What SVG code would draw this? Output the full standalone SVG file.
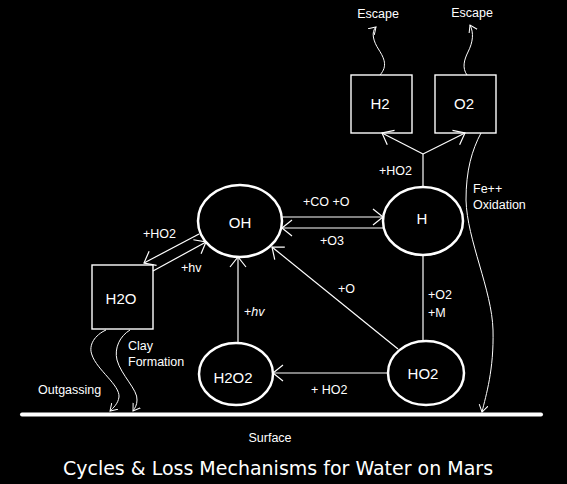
<svg xmlns="http://www.w3.org/2000/svg" width="567" height="484" viewBox="0 0 567 484">
<style>
.bg{fill:#000}
.box{fill:none;stroke:#fff;stroke-width:1.4}
.ell{fill:none;stroke:#fff;stroke-width:2.5}
.ln{fill:none;stroke:#fff;stroke-width:1.2}
.sq{fill:none;stroke:#fff;stroke-width:1}
.t{fill:#fff;font-family:"Liberation Sans",Arial,sans-serif;font-size:12.5px}
.n{fill:#fff;font-family:"Liberation Sans",Arial,sans-serif;font-size:15px;text-anchor:middle}
.title{fill:#fff;font-family:"DejaVu Sans",Verdana,sans-serif;font-size:19px;text-anchor:middle}
</style>
<defs>
<marker id="ah" markerUnits="userSpaceOnUse" markerWidth="14" markerHeight="20" refX="11" refY="9" orient="auto">
<path d="M1,1 L11,9 L1,17" fill="none" stroke="#fff" stroke-width="1.2"/>
</marker>
<marker id="sm" markerUnits="userSpaceOnUse" markerWidth="10" markerHeight="12" refX="7" refY="5" orient="auto">
<path d="M0,0.5 L7,5 L0,9.5" fill="none" stroke="#fff" stroke-width="1"/>
</marker>
</defs>
<rect class="bg" x="0" y="0" width="567" height="484"/>

<g id="connectors">
<path class="ln" d="M282,217 L383,217" marker-end="url(#ah)"/>
<path class="ln" d="M383,228 L282,228" marker-end="url(#ah)"/>
<path class="ln" d="M423,187 L423,154"/>
<path class="ln" d="M423,154 L382,133" marker-end="url(#ah)"/>
<path class="ln" d="M423,154 L465,133" marker-end="url(#ah)"/>
<path class="ln" d="M423,255 L423,341"/>
<path class="ln" d="M199,234 L144,263" marker-end="url(#ah)"/>
<path class="ln" d="M153,271 L206,242" marker-end="url(#ah)"/>
<path class="ln" d="M238,343 L238,257" marker-end="url(#ah)"/>
<path class="ln" d="M388,373 L273,373" marker-end="url(#ah)"/>
<path class="ln" d="M398,349 L272,247" marker-end="url(#ah)"/>
<path class="sq" d="M380,75 C388,66 384,58 379,50 C373,41 371,32 376,27" marker-end="url(#sm)"/>
<path class="sq" d="M467,75 C462,68 464,60 468,52 C473,42 474,33 470,25" marker-end="url(#sm)"/>
<path class="sq" d="M106,330 C95,335 88,345 92,355 C97,370 120,385 119,397 C118,404 113,408 110,411" marker-end="url(#sm)"/>
<path class="sq" d="M130,330 C120,336 114,348 117,360 C121,375 138,390 137,400 C137,405 135,408 133,411" marker-end="url(#sm)"/>
<path class="sq" d="M481,133 C472,150 466,170 466,200 C467,240 492,290 493,330 C494,370 486,395 482,412" marker-end="url(#sm)"/>
<text class="t" x="303" y="206">+CO +O</text>
<text class="t" x="320" y="245">+O3</text>
<text class="t" x="379" y="175">+HO2</text>
<text class="t" x="143" y="238">+HO2</text>
<text class="t" x="181" y="272">+hv</text>
<text class="t" x="244" y="316">+<tspan font-style="italic">hv</tspan></text>
<text class="t" x="338" y="293">+O</text>
<text class="t" x="428" y="299">+O2</text>
<text class="t" x="428" y="317">+M</text>
<text class="t" x="311" y="394">+ HO2</text>
<text class="t" x="473" y="193">Fe++</text>
<text class="t" x="473" y="209">Oxidation</text>
<text class="t" x="38" y="394">Outgassing</text>
<text class="t" x="128" y="350">Clay</text>
<text class="t" x="128" y="366">Formation</text>
<text class="t" x="378" y="18" text-anchor="middle">Escape</text>
<text class="t" x="472" y="17" text-anchor="middle">Escape</text>
</g>

<g id="H2"><rect class="box" x="351" y="75" width="61" height="58"/><text class="n" x="380" y="109">H2</text></g>
<g id="O2"><rect class="box" x="435" y="75" width="61" height="58"/><text class="n" x="464" y="109">O2</text></g>
<g id="OH"><ellipse class="ell" cx="240" cy="221" rx="42" ry="36"/><text class="n" x="240" y="228">OH</text></g>
<g id="H"><ellipse class="ell" cx="423" cy="221" rx="40" ry="34"/><text class="n" x="422" y="224">H</text></g>
<g id="H2O"><rect class="box" x="92" y="265" width="61" height="64"/><text class="n" x="121" y="304">H2O</text></g>
<g id="H2O2"><ellipse class="ell" cx="236" cy="374" rx="37" ry="31"/><text class="n" x="233" y="383">H2O2</text></g>
<g id="HO2"><ellipse class="ell" cx="426" cy="373" rx="38" ry="32"/><text class="n" x="423" y="379">HO2</text></g>
<g id="Surface"><line x1="22" y1="414.5" x2="541" y2="414.5" stroke="#fff" stroke-width="4" stroke-linecap="round"/><text class="t" x="270" y="442" text-anchor="middle" font-size="13">Surface</text></g>
<text class="title" x="278" y="475">Cycles &amp; Loss Mechanisms for Water on Mars</text>
</svg>
